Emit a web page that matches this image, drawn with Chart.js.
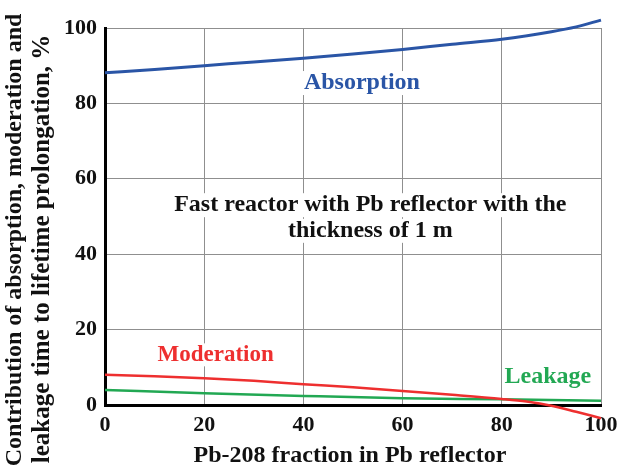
<!DOCTYPE html>
<html>
<head>
<meta charset="utf-8">
<script src="https://cdn.jsdelivr.net/npm/chart.js@4/dist/chart.umd.min.js"></script>
<style>
  html, body { margin: 0; padding: 0; background: #ffffff; }
  #wrap { width: 619px; height: 471px; position: relative; }
</style>
</head>
<body>
<div id="wrap"><canvas id="chart"></canvas></div>
<script>
// Datos
const absorptionX = [0, 10, 20, 30, 40, 50, 60, 70, 80, 90, 95, 100];
const absorptionY = [88.1, 89.0, 90.0, 91.0, 92.0, 93.1, 94.3, 95.7, 97.0, 99.0, 100.3, 102.1];

const moderationX = [0, 10, 20, 30, 40, 50, 60, 70, 80, 85, 90, 95, 100];
const moderationY = [8.0, 7.6, 7.1, 6.4, 5.5, 4.7, 3.7, 2.7, 1.6, 0.9, -0.2, -1.8, -3.5];

const leakageX = [0, 20, 40, 60, 80, 100];
const leakageY = [4.0, 3.1, 2.4, 1.8, 1.5, 1.1];

const xTicks = [0, 20, 40, 60, 80, 100];
const yTicks = [0, 20, 40, 60, 80, 100];

const yTitle = ['Contribution of absorption, moderation and', 'leakage time to lifetime prolongation, %'];
const xTitle = 'Pb-208 fraction in Pb reflector';
const noteLines = ['Fast reactor with Pb reflector with the', 'thickness of 1 m'];

// Paleta
const C = {
  blue: '#2a55a6',
  red: '#ee2f2f',
  green: '#22a853',
  grid: '#8f8f8f',
  axis: '#000000',
  text: '#111111',
};

const FONT = "'Liberation Serif', 'Times New Roman', serif";

function puntos(xs, ys) {
  return xs.map((x, i) => ({ x: x, y: ys[i] }));
}

// Textos dentro del gráfico y títulos de ejes
const etiquetas = {
  id: 'etiquetas',
  afterDatasetsDraw(chart) {
    const ctx = chart.ctx;
    const sx = chart.scales.x, sy = chart.scales.y;

    function texto(str, x, y, color, size, fondo) {
      ctx.save();
      ctx.font = 'bold ' + size + 'px ' + FONT;
      ctx.textAlign = 'center';
      ctx.textBaseline = 'middle';
      if (fondo) {
        const w = ctx.measureText(str).width;
        ctx.fillStyle = '#ffffff';
        ctx.fillRect(x - w / 2 - 2, y - size / 2, w + 4, size);
      }
      ctx.fillStyle = color;
      ctx.fillText(str, x, y);
      ctx.restore();
    }

    texto('Absorption', sx.getPixelForValue(51.8), sy.getPixelForValue(85.4), C.blue, 24, true);
    texto(noteLines[0], sx.getPixelForValue(53.5), sy.getPixelForValue(53), C.text, 24, true);
    texto(noteLines[1], sx.getPixelForValue(53.5), sy.getPixelForValue(46.2), C.text, 24, true);
    texto('Moderation', sx.getPixelForValue(22.3), sy.getPixelForValue(13.3), C.red, 23, true);
    texto('Leakage', sx.getPixelForValue(89.3), sy.getPixelForValue(7.4), C.green, 24, true);

    // Título eje X
    texto(xTitle, 350, 456, C.text, 24, false);

    // Título eje Y (rotado, dos líneas)
    ctx.save();
    ctx.fillStyle = C.text;
    ctx.textAlign = 'center';
    ctx.textBaseline = 'middle';
    ctx.translate(15, 240);
    ctx.rotate(-Math.PI / 2);
    ctx.font = 'bold 24px ' + FONT;
    ctx.fillText(yTitle[0], 0, 0);
    ctx.font = 'bold 25px ' + FONT;
    ctx.fillText(yTitle[1], -9, 28);
    ctx.restore();
  }
};

function gridColor(c) {
  return c.tick && c.tick.value === 0 ? 'rgba(0,0,0,0)' : C.grid;
}

new Chart(document.getElementById('chart'), {
  type: 'line',
  data: {
    datasets: [
      {
        label: 'Absorption',
        data: puntos(absorptionX, absorptionY),
        borderColor: C.blue,
        borderWidth: 3,
        pointRadius: 0,
        cubicInterpolationMode: 'monotone',
        clip: false,
      },
      {
        label: 'Moderation',
        data: puntos(moderationX, moderationY),
        borderColor: C.red,
        borderWidth: 2.5,
        pointRadius: 0,
        cubicInterpolationMode: 'monotone',
        clip: false,
      },
      {
        label: 'Leakage',
        data: puntos(leakageX, leakageY),
        borderColor: C.green,
        borderWidth: 2.5,
        pointRadius: 0,
        cubicInterpolationMode: 'monotone',
        clip: false,
      },
    ]
  },
  options: {
    responsive: true,
    maintainAspectRatio: false,
    animation: false,
    layout: { padding: { top: 28, right: 18, left: 0, bottom: 0 } },
    plugins: {
      legend: { display: false },
      tooltip: { enabled: false },
    },
    scales: {
      x: {
        type: 'linear',
        min: 0,
        max: 100,
        afterBuildTicks: s => { s.ticks = xTicks.map(v => ({ value: v })); },
        afterFit: s => { s.height = 66; s.paddingLeft = 0; s.paddingRight = 0; },
        grid: { color: gridColor, lineWidth: 1, drawTicks: false },
        border: { color: C.axis, width: 3 },
        ticks: {
          color: C.text,
          padding: 7,
          maxRotation: 0,
          font: { family: FONT, size: 22, weight: 'bold' },
        },
      },
      y: {
        type: 'linear',
        min: 0,
        max: 100,
        afterBuildTicks: s => { s.ticks = yTicks.map(v => ({ value: v })); },
        afterFit: s => { s.width = 105; s.paddingTop = 0; s.paddingBottom = 0; },
        grid: { color: gridColor, lineWidth: 1, drawTicks: false },
        border: { color: C.axis, width: 3 },
        ticks: {
          color: C.text,
          padding: 8,
          font: { family: FONT, size: 22, weight: 'bold' },
        },
      },
    },
  },
  plugins: [etiquetas],
});
</script>
</body>
</html>
